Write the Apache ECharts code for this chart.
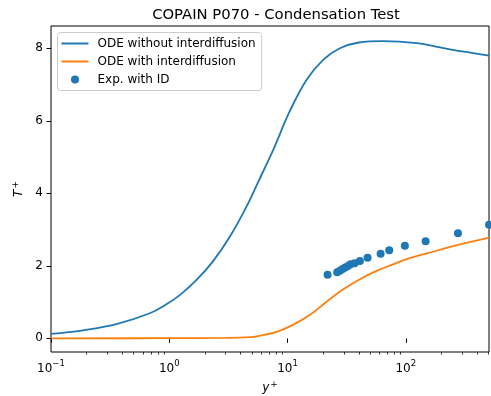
<!DOCTYPE html>
<html>
<head>
<meta charset="utf-8">
<script src="https://cdn.jsdelivr.net/npm/echarts@6/dist/echarts.min.js"></script>
<style>
html,body{margin:0;padding:0;background:#fff;}
#c{width:491px;height:396px;}
</style>
</head>
<body>
<div id="c"></div>
<script>
// ---- data ----
const titleText = 'COPAIN P070 - Condensation Test';
const seriesNames = ['ODE without interdiffusion', 'ODE with interdiffusion', 'Exp. with ID'];

const noIdX = [0.1, 0.187, 0.357, 0.684, 0.946, 1.227, 1.70, 2.35, 3.25, 4.50, 5.64, 7.55, 10.4, 14.5, 20.0, 27.7, 40, 64, 123, 236, 505];
const noIdY = [0.12, 0.22, 0.39, 0.69, 0.94, 1.19, 1.61, 2.13, 2.80, 3.63, 4.31, 5.19, 6.25, 7.13, 7.68, 8.0, 8.16, 8.2, 8.14, 7.97, 7.8];

const withIdX = [0.1, 1, 3, 4.8, 5.8, 8.1, 11.1, 15.4, 21.4, 29.6, 40.9, 56.6, 78.2, 108, 150, 287, 505];
const withIdY = [0, 0.003, 0.01, 0.03, 0.07, 0.18, 0.37, 0.64, 1.01, 1.35, 1.63, 1.86, 2.04, 2.21, 2.34, 2.59, 2.78];

const expX = [21.8, 26.3, 27.7, 29.2, 30.7, 32.4, 34.1, 36.9, 40.9, 47.5, 61.2, 72.4, 98.2, 147, 276, 505];
const expY = [1.75, 1.82, 1.865, 1.91, 1.95, 1.995, 2.04, 2.07, 2.13, 2.22, 2.33, 2.43, 2.55, 2.68, 2.90, 3.13];

const xMajorTicks = [0.1, 1, 10, 100];
const xMajorLabels = ['{b|10}{s|\u22121}', '{b|10}{s|0}', '{b|10}{s|1}', '{b|10}{s|2}'];
const xMinorTicks = [0.2, 0.3, 0.4, 0.5, 0.6, 0.7, 0.8, 0.9,
                     2, 3, 4, 5, 6, 7, 8, 9,
                     20, 30, 40, 50, 60, 70, 80, 90,
                     200, 300, 400, 500];
const yTicks = [0, 2, 4, 6, 8];
const xRange = [0.1, 505];
const yRange = [-0.378, 8.615];

// ---- chart ----
const pair = (xs, ys) => xs.map((x, i) => [x, ys[i]]);
const font = 'DejaVu Sans';
const chart = echarts.init(document.getElementById('c'), null, {renderer: 'canvas'});

const supRich = {
  b: {fontFamily: font, fontSize: 12, color: '#000', verticalAlign: 'bottom'},
  s: {fontFamily: font, fontSize: 8.5, color: '#000', verticalAlign: 'top', padding: [0, 0, 7, 0]}
};

chart.setOption({
  animation: false,
  backgroundColor: '#fff',
  title: {
    text: titleText, left: 271, top: 3, textAlign: 'center',
    textStyle: {fontFamily: font, fontSize: 14.8, fontWeight: 'normal', color: '#000'}
  },
  grid: {left: 51, right: 2, top: 26, bottom: 44, outerBoundsMode: 'none', containLabel: false,
         show: true, borderColor: '#000', borderWidth: 1, backgroundColor: 'transparent'},
  legend: {
    orient: 'vertical', left: 57.5, top: 32.5,
    data: [
      {name: seriesNames[0], itemStyle: {opacity: 0}},
      {name: seriesNames[1], itemStyle: {opacity: 0}},
      {name: seriesNames[2], icon: 'circle'}
    ],
    itemWidth: 27, itemHeight: 8, itemGap: 4,
    padding: [4, 6, 4, 3],
    backgroundColor: 'rgba(255,255,255,0.8)', borderColor: '#cccccc', borderWidth: 1, borderRadius: 3,
    textStyle: {fontFamily: font, fontSize: 12, color: '#000', lineHeight: 14, padding: [0, 0, 0, 4]}
  },
  xAxis: [{
    type: 'log', logBase: 10, min: xRange[0], max: xRange[1], position: 'bottom',
    name: '{i|y}{p|+}', nameLocation: 'middle', nameGap: 27,
    nameTextStyle: {rich: {
      i: {fontFamily: font, fontStyle: 'italic', fontSize: 12, color: '#000'},
      p: {fontFamily: font, fontSize: 9, color: '#000', verticalAlign: 'top', padding: [0, 0, 6, 1]}
    }},
    axisLine: {show: false},
    splitLine: {show: false},
    axisTick: {show: true, inside: false, length: 4.5, lineStyle: {color: '#000', width: 1}, customValues: xMajorTicks},
    axisLabel: {
      margin: 7, color: '#000', customValues: xMajorTicks,
      formatter: (v) => {
        const i = xMajorTicks.findIndex(t => Math.abs(Math.log10(t) - Math.log10(v)) < 1e-6);
        return i >= 0 ? xMajorLabels[i] : '';
      },
      rich: supRich
    },
    minorTick: {show: false}
  }, {
    type: 'log', logBase: 10, min: xRange[0], max: xRange[1], position: 'bottom',
    axisLine: {show: false}, splitLine: {show: false},
    axisTick: {show: true, inside: false, length: 2.5, lineStyle: {color: '#000', width: 0.8}, customValues: xMinorTicks},
    axisLabel: {show: false}
  }],
  yAxis: {
    type: 'value', min: yRange[0], max: yRange[1],
    name: '{i|T}{p|+}', nameLocation: 'middle', nameGap: 23, nameRotate: 90,
    nameTextStyle: {rich: {
      i: {fontFamily: font, fontStyle: 'italic', fontSize: 12, color: '#000'},
      p: {fontFamily: font, fontSize: 9, color: '#000', verticalAlign: 'top', padding: [0, 0, 6, 1]}
    }},
    axisLine: {show: false}, splitLine: {show: false},
    axisTick: {show: true, inside: false, length: 4.5, lineStyle: {color: '#000', width: 1}, customValues: yTicks},
    axisLabel: {margin: 8, color: '#000', fontFamily: font, fontSize: 12, customValues: yTicks}
  },
  series: [{
    name: seriesNames[0], type: 'line', xAxisIndex: 0, data: pair(noIdX, noIdY),
    smooth: 0.4, symbol: 'none', lineStyle: {color: '#1f77b4', width: 1.8}, itemStyle: {color: '#1f77b4'}, z: 3
  }, {
    name: seriesNames[1], type: 'line', xAxisIndex: 0, data: pair(withIdX, withIdY),
    smooth: 0.4, symbol: 'none', lineStyle: {color: '#ff7f0e', width: 1.8}, itemStyle: {color: '#ff7f0e'}, z: 3
  }, {
    name: seriesNames[2], type: 'scatter', xAxisIndex: 0, data: pair(expX, expY),
    symbol: 'circle', symbolSize: 8, itemStyle: {color: '#1f77b4', opacity: 1}, z: 4
  }]
});
</script>
</body>
</html>
